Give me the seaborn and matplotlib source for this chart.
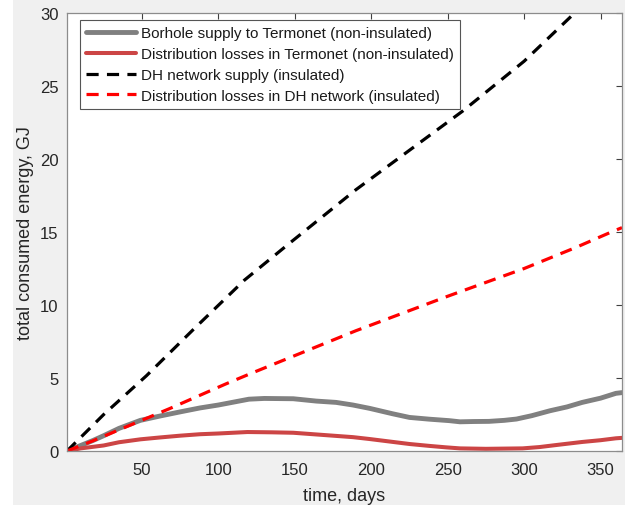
import numpy as np
import pandas as pd
import matplotlib
matplotlib.use("Agg")
import matplotlib.pyplot as plt
from matplotlib.patches import Rectangle
import seaborn as sns

# ---- data ----
borehole_days = [1, 10, 18, 25, 35, 49, 62, 75, 88, 100, 110, 120, 130, 149, 164, 177, 188, 199, 214, 225, 238, 251, 258, 267, 277, 287, 295, 305, 317, 328, 338, 350, 360, 364]
borehole_vals = [0.0, 0.38, 0.72, 1.05, 1.55, 2.1, 2.4, 2.68, 2.95, 3.15, 3.35, 3.55, 3.6, 3.58, 3.42, 3.33, 3.15, 2.92, 2.55, 2.3, 2.18, 2.08, 2.0, 2.02, 2.03, 2.1, 2.19, 2.42, 2.76, 3.02, 3.33, 3.62, 3.95, 4.0]

loss_days = [1, 10, 25, 35, 49, 62, 75, 88, 100, 119, 135, 149, 162, 175, 188, 199, 212, 225, 238, 249, 258, 275, 299, 310, 321, 338, 350, 360, 364]
loss_vals = [0.0, 0.18, 0.38, 0.6, 0.8, 0.93, 1.05, 1.15, 1.2, 1.3, 1.28, 1.25, 1.15, 1.05, 0.95, 0.82, 0.65, 0.48, 0.35, 0.25, 0.18, 0.15, 0.18, 0.27, 0.41, 0.62, 0.74, 0.87, 0.9]

dh_supply_days = [1, 25, 53, 84, 117, 145, 190, 225, 260, 300, 332, 364]
dh_supply_vals = [0.0, 2.5, 5.16, 8.36, 11.7, 14.1, 17.9, 20.6, 23.3, 26.7, 29.9, 33.0]

dh_loss_days = [1, 18, 68, 105, 121, 190, 250, 300, 334, 357, 364]
dh_loss_vals = [0.0, 0.7, 2.9, 4.6, 5.3, 8.24, 10.6, 12.5, 13.95, 15.0, 15.3]

labels = ["Borhole supply to Termonet (non-insulated)",
          "Distribution losses in Termonet (non-insulated)",
          "DH network supply (insulated)",
          "Distribution losses in DH network (insulated)"]

x_ticks = [50, 100, 150, 200, 250, 300, 350]
y_ticks = [0, 5, 10, 15, 20, 25, 30]

sns.set_style("white")
plt.rcParams['font.family'] = ['Liberation Sans', 'DejaVu Sans']

fig = plt.figure(figsize=(6.25, 5.06), dpi=100, facecolor="white")
fig.patches.append(Rectangle((13 / 625, 0), 1, 1, transform=fig.transFigure,
                             facecolor="#f0f0f0", edgecolor="none", zorder=-10))
ax = fig.add_axes([0.1072, 0.1067, 0.888, 0.8656])
ax.set_facecolor("white")

series = [
    (borehole_days, borehole_vals, labels[0], "#808080", "-", 3.5),
    (loss_days, loss_vals, labels[1], "#cc4545", "-", 2.9),
    (dh_supply_days, dh_supply_vals, labels[2], "black", (0, (3.8, 2.6)), 2.3),
    (dh_loss_days, dh_loss_vals, labels[3], "#ff0000", (0, (3.8, 2.6)), 2.3),
]

for d, v, lab, col, ls, lw in series:
    df = pd.DataFrame({"day": d, "val": v})
    sns.lineplot(data=df, x="day", y="val", ax=ax, color=col, linestyle=ls,
                 linewidth=lw, label=lab)

ax.set_xlim(1, 364)
ax.set_ylim(0, 30)
ax.set_xticks(x_ticks)
ax.set_yticks(y_ticks)
ax.set_xlabel("time, days", fontsize=13, color="#262626", labelpad=7)
ax.set_ylabel("total consumed energy, GJ", fontsize=13, color="#262626", labelpad=4)
ax.tick_params(direction="in", top=True, right=True, length=4, width=0.8,
               colors="#404040", labelsize=12, labelcolor="#262626")
ax.tick_params(axis="x", pad=8)
ax.tick_params(axis="y", pad=6)
for sp in ax.spines.values():
    sp.set_visible(True)
    sp.set_color("#8c8c8c")
    sp.set_linewidth(0.9)

leg = ax.legend(loc="upper left", bbox_to_anchor=(0.023, 0.984), borderaxespad=0,
                fontsize=11, handlelength=3.3, handletextpad=0.3, labelspacing=0.45,
                fancybox=False, framealpha=1, edgecolor="#555555", borderpad=0.4)
leg.get_frame().set_linewidth(0.8)
for t in leg.get_texts():
    t.set_color("#1a1a1a")

fig.savefig("out.png", dpi=100, facecolor=fig.get_facecolor())
